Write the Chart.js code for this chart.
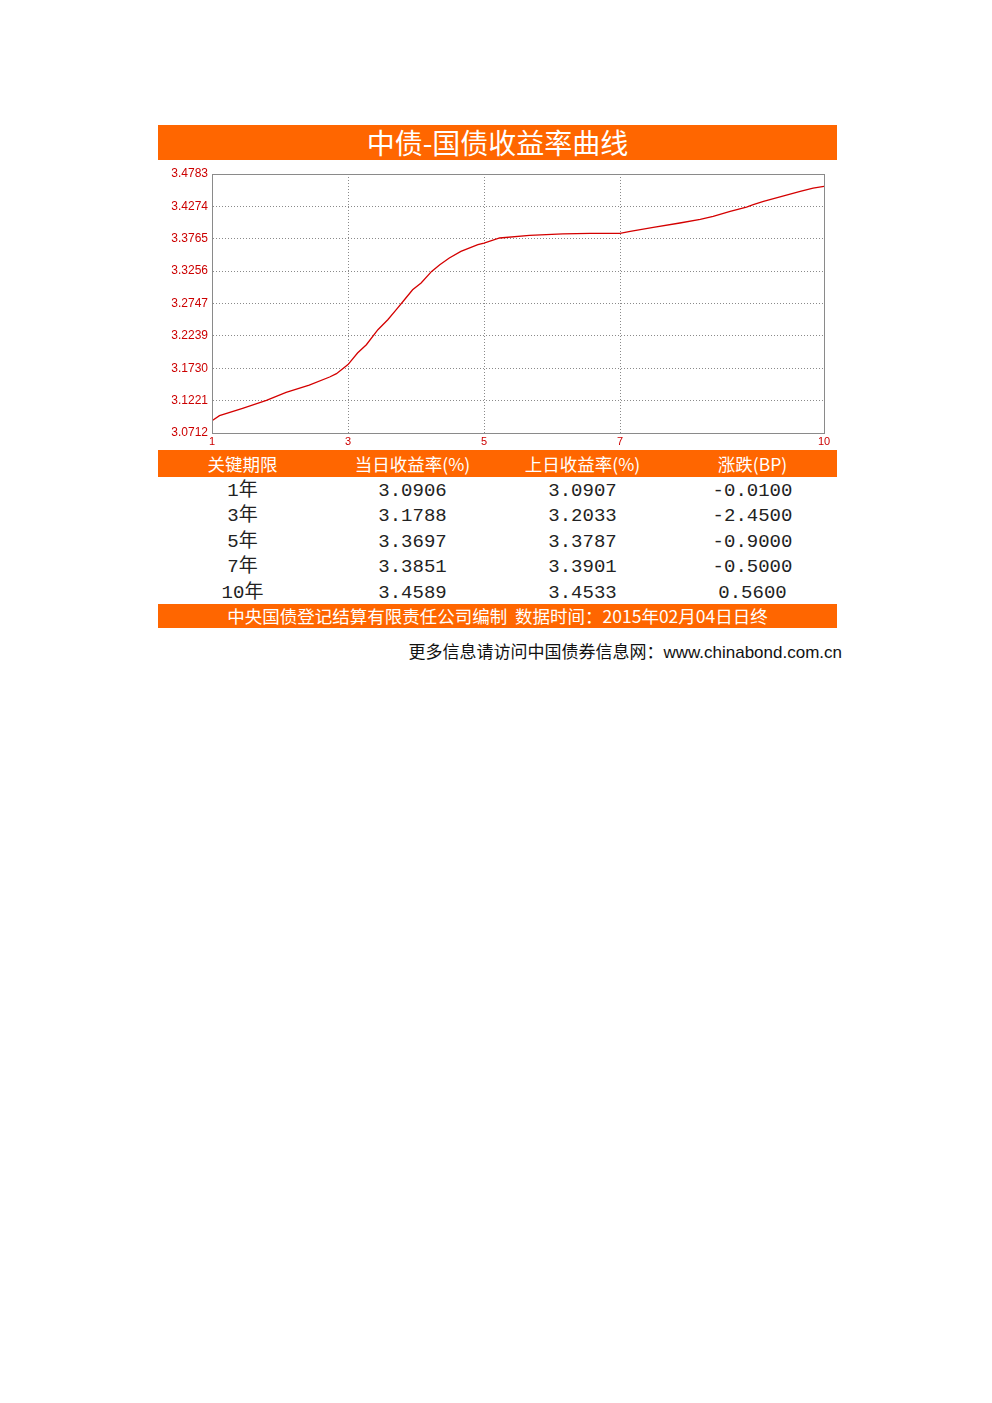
<!DOCTYPE html>
<html>
<head>
<meta charset="utf-8">
<script src="https://cdn.jsdelivr.net/npm/chart.js@4/dist/chart.umd.min.js"></script>
<style>
  html, body { margin:0; padding:0; background:#fff; }
  body { width:992px; height:1403px; position:relative; font-family:"Noto Sans CJK SC", sans-serif; }
  .band { position:absolute; left:158px; width:679px; background:#ff6600; color:#fff; text-align:center; }
  #title { top:125px; height:35px; line-height:35px; font-size:28px; }
  #chartBox { position:absolute; left:158px; top:160px; width:679px; height:290px; }
  #head { top:450px; height:27px; }
  #head div, .row div { position:absolute; width:170px; text-align:center; }
  #head div { top:0; line-height:27px; font-size:17.5px; }
  .row { position:absolute; left:158px; width:679px; height:25px; }
  .row div { top:0; line-height:25px; font-size:19px; color:#222; font-family:"Liberation Mono", "Noto Sans CJK SC", monospace; }
  #foot { top:604px; height:24px; line-height:24px; font-size:17.5px; white-space:nowrap; }
  #more { position:absolute; right:150px; top:641px; font-size:17px; line-height:24px; color:#111; white-space:nowrap;
          font-family:"Liberation Sans", "Noto Sans CJK SC", sans-serif; }
</style>
</head>
<body>
<div id="title" class="band">中债-国债收益率曲线</div>
<div id="chartBox"><canvas id="curve" width="679" height="290"></canvas></div>
<div id="head" class="band"></div>
<div id="rows"></div>
<div id="foot" class="band">中央国债登记结算有限责任公司编制&nbsp;&nbsp;数据时间：2015年02月04日日终</div>
<div id="more">更多信息请访问中国债券信息网：www.chinabond.com.cn</div>

<script>
/* curve points (term in years, yield %) */
const curveTerms  = [1, 1.11, 1.45, 1.8, 2.09, 2.43, 2.73, 2.83, 3.0, 3.14, 3.27, 3.44, 3.585, 3.71, 3.83, 3.95,
                     4.075, 4.23, 4.35, 4.49, 4.66, 4.91, 5.0, 5.23, 5.67, 6.16, 6.56, 7.0, 7.15, 7.49, 7.88,
                     8.18, 8.37, 8.62, 8.86, 8.96, 9.11, 9.38, 9.65, 9.84, 10];
const curveYields = [3.0906, 3.0984, 3.1099, 3.1225, 3.1350, 3.1466, 3.1592, 3.1644, 3.1788, 3.1970, 3.2100,
                     3.2336, 3.2493, 3.2650, 3.2807, 3.2964, 3.3070, 3.3252, 3.3357, 3.3463, 3.3566, 3.3672,
                     3.3697, 3.3777, 3.3818, 3.3842, 3.3850, 3.3851, 3.3880, 3.3944, 3.4013, 3.4070, 3.4117,
                     3.4195, 3.4264, 3.4300, 3.4352, 3.4431, 3.4510, 3.4560, 3.4589];

const xTicks = [1, 3, 5, 7, 10];
const yTicks = [3.0712, 3.1221, 3.1730, 3.2239, 3.2747, 3.3256, 3.3765, 3.4274, 3.4783];

/* table */
const headers   = ['关键期限', '当日收益率(%)', '上日收益率(%)', '涨跌(BP)'];
const termNames = ['1年', '3年', '5年', '7年', '10年'];
const todayYld  = ['3.0906', '3.1788', '3.3697', '3.3851', '3.4589'];
const prevYld   = ['3.0907', '3.2033', '3.3787', '3.3901', '3.4533'];
const changeBP  = ['-0.0100', '-2.4500', '-0.9000', '-0.5000', '0.5600'];

const colLeft = [-255, -85, 85, 255].map(d => 339.5 + d - 85);

/* build table */
const head = document.getElementById('head');
headers.forEach((h, i) => {
  const d = document.createElement('div');
  d.style.left = colLeft[i] + 'px';
  d.textContent = h;
  head.appendChild(d);
});
const rowsEl = document.getElementById('rows');
termNames.forEach((t, r) => {
  const row = document.createElement('div');
  row.className = 'row';
  row.style.top = (479 + r * 25.4) + 'px';
  [t, todayYld[r], prevYld[r], changeBP[r]].forEach((v, i) => {
    const d = document.createElement('div');
    d.style.left = colLeft[i] + 'px';
    d.textContent = v;
    row.appendChild(d);
  });
  rowsEl.appendChild(row);
});

/* frame round the plot area */
const frame = {
  id: 'frame',
  afterDraw(c) {
    const a = c.chartArea, ctx = c.ctx;
    ctx.save();
    ctx.strokeStyle = '#8a8a8a';
    ctx.lineWidth = 1;
    ctx.strokeRect(Math.round(a.left) + 0.5, Math.round(a.top) + 0.5,
                   Math.round(a.right - a.left), Math.round(a.bottom - a.top));
    ctx.restore();
  }
};

const red = '#cc0000';
new Chart(document.getElementById('curve'), {
  type: 'line',
  data: {
    datasets: [{
      data: curveTerms.map((x, i) => ({ x, y: curveYields[i] })),
      borderColor: '#d40000',
      borderWidth: 1.3,
      pointRadius: 0,
      tension: 0
    }]
  },
  options: {
    responsive: false,
    animation: false,
    layout: { padding: { top: 14, right: 13, left: 0, bottom: 0 } },
    plugins: { legend: { display: false }, tooltip: { enabled: false } },
    scales: {
      x: {
        type: 'linear', min: 1, max: 10,
        afterBuildTicks: s => { s.ticks = xTicks.map(v => ({ value: v })); },
        afterFit: s => { s.height = 17; },
        ticks: { color: red, padding: 2, font: { family: 'Liberation Sans', size: 11 }, maxRotation: 0,
                 callback: v => String(v) },
        grid: { color: '#8a8a8a', lineWidth: 1, drawTicks: false },
        border: { color: '#8a8a8a', dash: [1, 2] }
      },
      y: {
        min: yTicks[0], max: yTicks[yTicks.length - 1],
        afterBuildTicks: s => { s.ticks = yTicks.map(v => ({ value: v })); },
        afterFit: s => { s.width = 54; },
        ticks: { color: red, padding: 4, font: { family: 'Liberation Sans', size: 12 },
                 callback: v => Number(v).toFixed(4) },
        grid: { color: '#8a8a8a', lineWidth: 1, drawTicks: false },
        border: { color: '#8a8a8a', dash: [1, 2] }
      }
    }
  },
  plugins: [frame]
});
</script>
</body>
</html>
